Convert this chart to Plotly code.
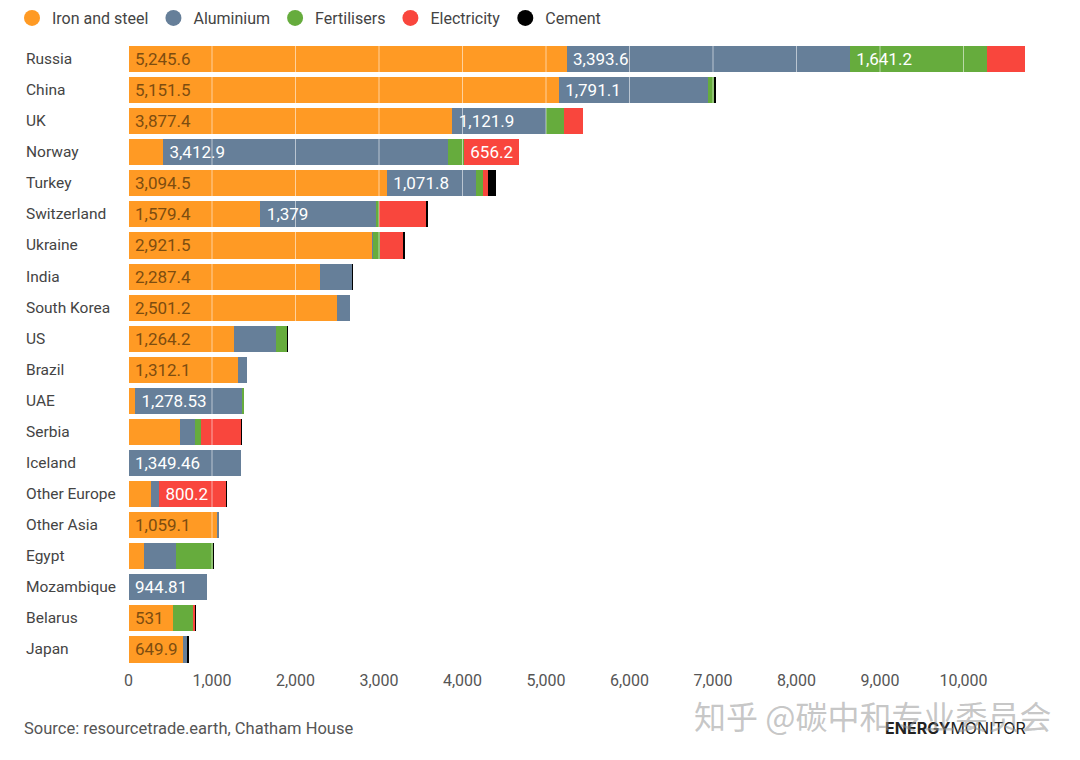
import plotly.graph_objects as go

FONT = "Roboto"
countries = ["Russia", "China", "UK", "Norway", "Turkey", "Switzerland", "Ukraine", "India",
             "South Korea", "US", "Brazil", "UAE", "Serbia", "Iceland", "Other Europe",
             "Other Asia", "Egypt", "Mozambique", "Belarus", "Japan"]
iron_steel = [5245.6, 5151.5, 3877.4, 413, 3094.5, 1579.4, 2921.5, 2287.4, 2501.2, 1264.2,
              1312.1, 78, 616, 0, 270, 1059.1, 186, 0, 531, 649.9]
aluminium = [3393.6, 1791.1, 1121.9, 3412.9, 1071.8, 1379, 5, 385, 150, 500,
             106, 1278.53, 180, 1349.46, 95, 18, 383, 944.81, 0, 55]
fertilisers = [1641.2, 65, 213, 190, 77, 40, 80, 0, 0, 130,
               0, 12, 72, 0, 0, 0, 440, 0, 240, 0]
electricity = [460, 10, 232, 656.2, 60, 565, 285, 0, 0, 0,
               0, 0, 475, 0, 800.2, 0, 0, 0, 24, 0]
cement = [0, 10, 0, 0, 95, 12, 10, 6, 0, 4,
          0, 0, 6, 0, 8, 0, 6, 0, 6, 3]

iron_labels = ["5,245.6", "5,151.5", "3,877.4", "", "3,094.5", "1,579.4", "2,921.5", "2,287.4", "2,501.2", "1,264.2",
               "1,312.1", "", "", "", "", "1,059.1", "", "", "531", "649.9"]
alu_labels = ["3,393.6", "1,791.1", "1,121.9", "3,412.9", "1,071.8", "1,379", "", "", "", "",
              "", "1,278.53", "", "1,349.46", "", "", "", "944.81", "", ""]
fert_labels = ["1,641.2"] + [""] * 19
elec_labels = ["", "", "", "656.2", "", "", "", "", "", "", "", "", "", "", "800.2", "", "", "", "", ""]
tick_values = [0, 1000, 2000, 3000, 4000, 5000, 6000, 7000, 8000, 9000, 10000]
tick_labels = ["0", "1,000", "2,000", "3,000", "4,000", "5,000", "6,000", "7,000", "8,000", "9,000", "10,000"]

series = [
    ("Iron and steel", iron_steel, iron_labels, "#ff9a24", "#7d4d10"),
    ("Aluminium", aluminium, alu_labels, "#667f99", "#ffffff"),
    ("Fertilisers", fertilisers, fert_labels, "#66ac3d", "#ffffff"),
    ("Electricity", electricity, elec_labels, "#f9463d", "#ffffff"),
    ("Cement", cement, [""] * 20, "#000000", "#ffffff"),
]

W, H = 1080, 760
ML, MT = 12, 1


def fx(px):
    return (px - ML) / (W - ML)


def fy(py):
    return (H - py) / (H - MT)


fig = go.Figure()
for name, values, labels, color, text_color in series:
    fig.add_trace(go.Bar(
        y=countries, x=values, orientation="h", name=name, showlegend=False,
        marker=dict(color=color, line=dict(width=0)),
        text=["\u2009" + t if t else "" for t in labels],
        textposition="inside", insidetextanchor="start", constraintext="none",
        textangle=0, cliponaxis=False,
        textfont=dict(family=FONT, size=17, color=text_color), hoverinfo="x+y+name",
    ))
    fig.add_trace(go.Scatter(
        x=[None], y=[None], mode="markers", name=name, showlegend=True,
        marker=dict(color=color, size=19, symbol="circle"),
    ))

shapes = [dict(type="line", xref="x", yref="paper", x0=v, x1=v, y0=fy(665), y1=fy(43.5), layer="above",
               line=dict(color="rgba(255,255,255,0.55)", width=1)) for v in tick_values[1:]]

annotations = [dict(text=c, x=fx(23.5), y=c, xref="paper", yref="y", xanchor="left", yanchor="middle",
                    showarrow=False, font=dict(family=FONT, size=15.5, color="#444444")) for c in countries]
annotations += [
    dict(text="Source: resourcetrade.earth, Chatham House", xref="paper", yref="paper", x=fx(22), y=fy(728),
         xanchor="left", yanchor="middle", showarrow=False, font=dict(family=FONT, size=16.5, color="#555555")),
    dict(text="<b>ENERGY</b>MONITOR", xref="paper", yref="paper", x=fx(1028), y=fy(728),
         xanchor="right", yanchor="middle", showarrow=False, font=dict(family="Inter", size=16, color="#222222")),
    dict(text="知乎 @碳中和专业委员会", xref="paper", yref="paper", x=fx(1053), y=fy(715),
         xanchor="right", yanchor="middle", showarrow=False,
         font=dict(family="Noto Sans CJK SC", size=32, color="rgba(150,150,150,0.55)")),
]

fig.update_layout(
    width=W, height=H, barmode="stack", bargap=0.16,
    plot_bgcolor="white", paper_bgcolor="white",
    margin=dict(l=ML, r=0, t=MT, b=0, pad=0),
    xaxis=dict(domain=[fx(128.5), fx(1047)], range=[0, 11000], tickmode="array", tickvals=tick_values,
               ticktext=tick_labels, showgrid=False, zeroline=False, showline=False, ticks="",
               ticklabelstandoff=4, tickfont=dict(family=FONT, size=16, color="#555555")),
    yaxis=dict(domain=[fy(665), fy(43.5)], categoryorder="array", categoryarray=countries,
               autorange="reversed", showticklabels=False, showgrid=False, zeroline=False,
               showline=False, ticks=""),
    legend=dict(orientation="h", x=0, y=1, xanchor="left", yanchor="top",
                font=dict(family=FONT, size=16, color="#444444"), traceorder="normal",
                itemsizing="trace", bgcolor="rgba(0,0,0,0)"),
    shapes=shapes, annotations=annotations,
)
fig.write_html("out.html", config={"displayModeBar": False}, post_script="document.body.style.margin='0';")
